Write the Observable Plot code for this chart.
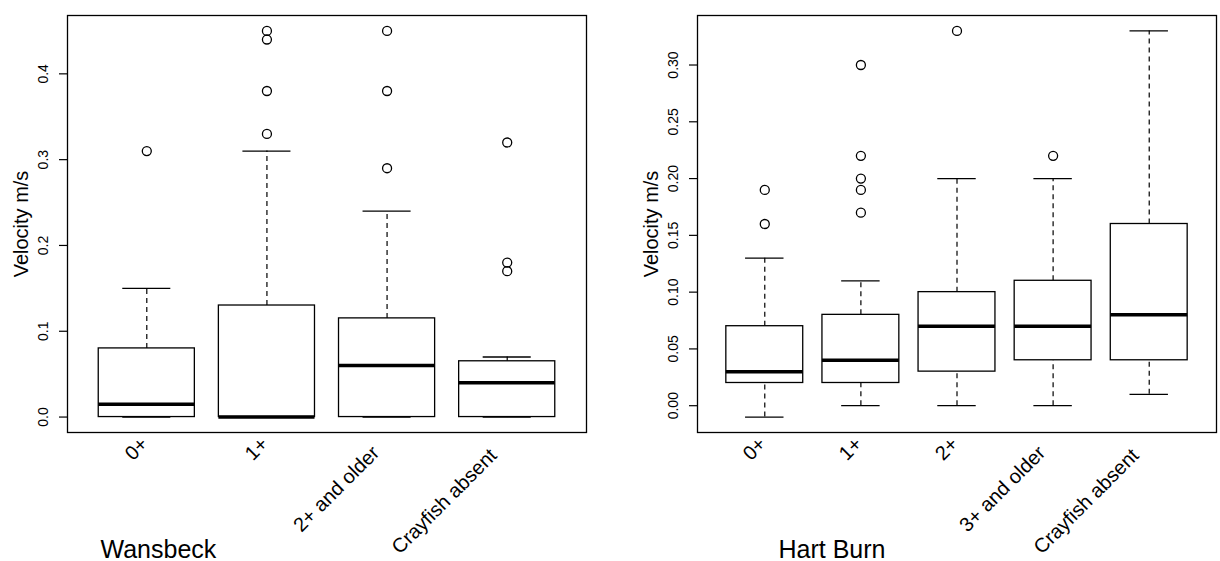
<!DOCTYPE html>
<html><head><meta charset="utf-8">
<script src="https://cdn.jsdelivr.net/npm/d3@7"></script>
<script src="https://cdn.jsdelivr.net/npm/@observablehq/plot@0.6"></script>
<style>
body{margin:0;background:#fff;}
#wrap{display:flex;width:1220px;height:561px;}
</style></head><body><div id="wrap"></div>
<script>
// Wansbeck
const wCats = ["0+", "1+", "2+ and older", "Crayfish absent"];
const wLo  = [0, 0, 0, 0];
const wQ1  = [0, 0, 0, 0];
const wMed = [0.015, 0, 0.06, 0.04];
const wQ3  = [0.08, 0.13, 0.115, 0.065];
const wHi  = [0.15, 0.31, 0.24, 0.07];
const wOutCat = ["0+", "1+", "1+", "1+", "1+", "2+ and older", "2+ and older", "2+ and older", "Crayfish absent", "Crayfish absent", "Crayfish absent"];
const wOutVal = [0.31, 0.33, 0.38, 0.44, 0.45, 0.29, 0.38, 0.45, 0.17, 0.18, 0.32];
const wTicks = [0, 0.1, 0.2, 0.3, 0.4];

// Hart Burn
const hCats = ["0+", "1+", "2+", "3+ and older", "Crayfish absent"];
const hLo  = [-0.01, 0, 0, 0, 0.01];
const hQ1  = [0.02, 0.02, 0.03, 0.04, 0.04];
const hMed = [0.03, 0.04, 0.07, 0.07, 0.08];
const hQ3  = [0.07, 0.08, 0.10, 0.11, 0.16];
const hHi  = [0.13, 0.11, 0.20, 0.20, 0.33];
const hOutCat = ["0+", "0+", "1+", "1+", "1+", "1+", "1+", "2+", "3+ and older"];
const hOutVal = [0.16, 0.19, 0.17, 0.19, 0.20, 0.22, 0.30, 0.33, 0.22];
const hTicks = [0, 0.05, 0.10, 0.15, 0.20, 0.25, 0.30];

const FONT = '"Liberation Sans", Arial, Helvetica, sans-serif';
const LABEL_SIZE = 20;
const ctx = document.createElement("canvas").getContext("2d");
ctx.font = `${LABEL_SIZE}px ${FONT}`;

function panel({cats, lo, q1, med, q3, hi, outCat, outVal, ticks, fmt, marginLeft, marginRight, title, titleDx}) {
  const n = cats.length;
  const pad = 0.04 * n;
  const rows = cats.map((c, i) => ({c, i: i + 1, lo: lo[i], q1: q1[i], med: med[i], q3: q3[i], hi: hi[i]}));
  const outs = outVal.map((v, k) => ({i: cats.indexOf(outCat[k]) + 1, v}));
  const all = lo.concat(hi, outVal);
  const ymin = d3.min(all), ymax = d3.max(all);
  const yr = ymax - ymin;
  const ink = {stroke: "black"};
  const f = d3.format(fmt);
  // rotated category labels, right-aligned like R's text(srt = 45, adj = 1)
  const labels = rows.map(r => {
    const s = 0.14 * ctx.measureText(r.c).width * Math.SQRT1_2;
    return Plot.text([r], {x: "i", text: "c", frameAnchor: "bottom", rotate: -45, textAnchor: "end",
      lineAnchor: "middle", dx: -s, dy: 6 + s, fontSize: LABEL_SIZE, fill: "black"});
  });
  return Plot.plot({
    width: 610, height: 561,
    marginLeft, marginRight, marginTop: 15, marginBottom: 129,
    style: {fontFamily: FONT, fontSize: "14px", background: "white", color: "black"},
    x: {domain: [0.5 - pad, n + 0.5 + pad], axis: null},
    y: {domain: [ymin - 0.04 * yr, ymax + 0.04 * yr], label: null},
    marks: [
      Plot.ruleX(rows, {x: "i", y1: "q3", y2: "hi", ...ink, strokeWidth: 1.2, strokeDasharray: "5,4"}),
      Plot.ruleX(rows, {x: "i", y1: "lo", y2: "q1", ...ink, strokeWidth: 1.2, strokeDasharray: "5,4"}),
      Plot.ruleY(rows, {x1: d => d.i - 0.2, x2: d => d.i + 0.2, y: "hi", ...ink, strokeWidth: 1.3}),
      Plot.ruleY(rows, {x1: d => d.i - 0.2, x2: d => d.i + 0.2, y: "lo", ...ink, strokeWidth: 1.3}),
      Plot.rect(rows, {x1: d => d.i - 0.4, x2: d => d.i + 0.4, y1: "q1", y2: "q3", fill: "white", ...ink, strokeWidth: 1.3}),
      Plot.ruleY(rows, {x1: d => d.i - 0.4, x2: d => d.i + 0.4, y: "med", ...ink, strokeWidth: 3.5}),
      Plot.dot(outs, {x: "i", y: "v", r: 4.5, ...ink, strokeWidth: 1.3, fill: "none"}),
      Plot.frame({stroke: "black", strokeWidth: 1.3}),
      Plot.axisY({ticks, tickSize: 8, tickFormat: () => "", label: null, stroke: "black", strokeWidth: 1.2}),
      Plot.text(ticks, {y: d => d, text: d => f(d), frameAnchor: "left", rotate: -90, dx: -20,
        textAnchor: "middle", lineAnchor: "bottom", fontSize: 14, fill: "black"}),
      ...labels,
      Plot.text(["Velocity m/s"], {frameAnchor: "left", rotate: -90, dx: -40, textAnchor: "middle",
        lineAnchor: "bottom", fontSize: 20, fill: "black"}),
      Plot.text([title], {frameAnchor: "bottom-left", textAnchor: "start", lineAnchor: "bottom",
        dx: titleDx, dy: 125, fontSize: 25, fill: "black"})
    ]
  });
}

const wrap = document.getElementById("wrap");
wrap.append(panel({cats: wCats, lo: wLo, q1: wQ1, med: wMed, q3: wQ3, hi: wHi, outCat: wOutCat, outVal: wOutVal,
  ticks: wTicks, fmt: ".1f", marginLeft: 67, marginRight: 24, title: "Wansbeck", titleDx: 33}));
wrap.append(panel({cats: hCats, lo: hLo, q1: hQ1, med: hMed, q3: hQ3, hi: hHi, outCat: hOutCat, outVal: hOutVal,
  ticks: hTicks, fmt: ".2f", marginLeft: 87, marginRight: 4, title: "Hart Burn", titleDx: 81}));
</script></body></html>
